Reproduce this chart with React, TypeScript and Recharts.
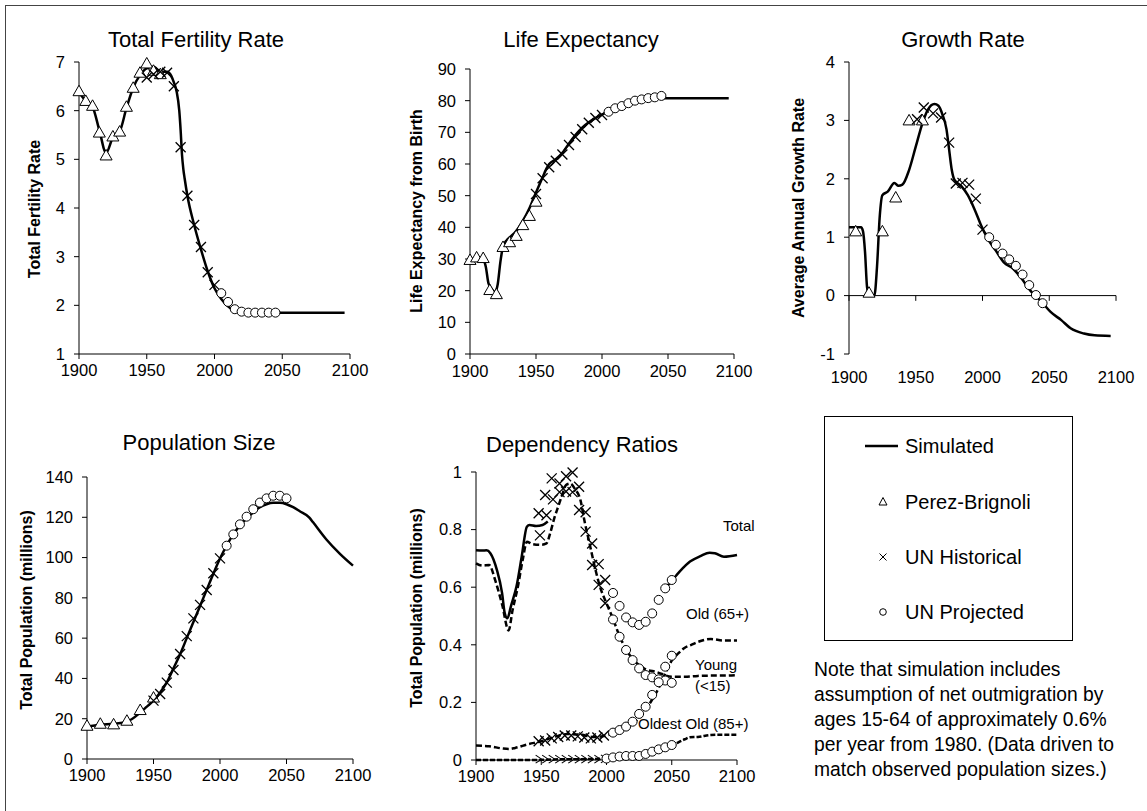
import React from 'react';
import { ComposedChart, Line, Scatter, XAxis, YAxis, ReferenceLine } from 'recharts';

const FONT = '"Liberation Sans", Arial, Helvetica, sans-serif';
const YEAR_TICKS = [1900, 1950, 2000, 2050, 2100];

// ---------- Total Fertility Rate ----------
const tfrSimYears = [1900, 1905, 1910, 1915, 1920, 1925, 1930, 1935, 1940, 1945, 1950, 1955, 1960, 1965, 1968, 1970, 1972, 1974, 1975, 1976, 1977, 1978, 1980, 1985, 1990, 1995, 2000, 2005, 2010, 2015, 2020, 2030, 2050, 2096];
const tfrSimValues = [6.38, 6.2, 6.08, 5.6, 5.13, 5.45, 5.57, 6.05, 6.47, 6.73, 6.87, 6.9, 6.8, 6.8, 6.72, 6.58, 6.4, 6.0, 5.6, 5.1, 4.8, 4.6, 4.25, 3.65, 3.15, 2.7, 2.35, 2.13, 1.98, 1.88, 1.85, 1.85, 1.85, 1.85];
const tfrPerezYears = [1900, 1905, 1910, 1915, 1920, 1925, 1930, 1935, 1940, 1945, 1950, 1955, 1960];
const tfrPerezValues = [6.4, 6.2, 6.1, 5.55, 5.08, 5.47, 5.57, 6.08, 6.47, 6.78, 6.97, 6.82, 6.75];
const tfrUNHistYears = [1950, 1955, 1960, 1965, 1970, 1975, 1980, 1985, 1990, 1995, 2000];
const tfrUNHistValues = [6.68, 6.75, 6.8, 6.78, 6.5, 5.25, 4.25, 3.65, 3.2, 2.68, 2.42];
const tfrUNProjYears = [2005, 2010, 2015, 2020, 2025, 2030, 2035, 2040, 2045];
const tfrUNProjValues = [2.25, 2.07, 1.92, 1.87, 1.85, 1.85, 1.85, 1.85, 1.85];

// ---------- Life Expectancy ----------
const leSimYears = [1900, 1905, 1910, 1912, 1914, 1917, 1919, 1921, 1923, 1925, 1928, 1930, 1935, 1940, 1945, 1950, 1955, 1958, 1960, 1965, 1970, 1975, 1980, 1985, 1990, 1995, 2000, 2005, 2010, 2015, 2020, 2025, 2030, 2035, 2040, 2045, 2096];
const leSimValues = [30, 30, 29.6, 27.5, 22.3, 20.2, 19.5, 22, 29, 33.9, 36, 36.8, 38.8, 42, 46, 51, 55.8, 58.6, 60, 61.5, 63.5, 66.5, 69.2, 71.5, 73.2, 74.5, 75.6, 76.7, 77.8, 78.7, 79.4, 80, 80.3, 80.6, 80.8, 80.8, 80.8];
const lePerezYears = [1900, 1905, 1910, 1915, 1920, 1925, 1930, 1935, 1940, 1945, 1950];
const lePerezValues = [29.7, 30.5, 30.3, 20.2, 18.9, 33.8, 35.3, 37.3, 40.7, 43.6, 48.1];
const leUNHistYears = [1950, 1955, 1960, 1965, 1970, 1975, 1980, 1985, 1990, 1995, 2000];
const leUNHistValues = [50.5, 55.5, 59, 61, 63, 66, 68.5, 71, 73, 74.5, 75.5];
const leUNProjYears = [2005, 2010, 2015, 2020, 2025, 2030, 2035, 2040, 2045];
const leUNProjValues = [76.5, 77.6, 78.3, 79.2, 80, 80.4, 80.8, 81.05, 81.5];

// ---------- Growth Rate ----------
const grSimYears = [1900, 1909, 1910.5, 1912, 1913.5, 1915, 1919, 1921, 1923, 1925, 1929, 1934, 1937, 1940, 1945, 1950, 1955, 1959, 1964, 1967, 1970, 1973, 1975, 1977, 1979, 1984, 1989, 1994, 1999, 2004, 2010, 2016, 2023, 2029, 2036, 2044, 2051, 2059, 2066, 2076, 2084, 2096];
const grSimValues = [1.17, 1.17, 1.1, 0.75, 0.15, 0.0, 0.0, 0.5, 1.35, 1.72, 1.78, 1.93, 1.88, 1.9, 2.15, 2.55, 2.95, 3.18, 3.28, 3.25, 3.1, 2.85, 2.5, 2.15, 1.98, 1.88, 1.72, 1.48, 1.2, 0.97, 0.77, 0.57, 0.46, 0.3, 0.08, -0.1, -0.28, -0.42, -0.56, -0.65, -0.68, -0.69];
const grPerezYears = [1905, 1915, 1925, 1935, 1945, 1955];
const grPerezValues = [1.1, 0.05, 1.1, 1.68, 3.0, 3.0];
const grUNHistYears = [1951, 1956, 1963, 1969, 1975, 1980, 1985, 1990, 1995, 2000];
const grUNHistValues = [3.02, 3.22, 3.12, 3.05, 2.62, 1.92, 1.93, 1.9, 1.66, 1.13];
const grUNProjYears = [2005, 2010, 2015, 2020, 2025, 2030, 2035, 2040, 2045];
const grUNProjValues = [1.0, 0.87, 0.72, 0.62, 0.51, 0.36, 0.18, 0.01, -0.13];

// ---------- Population Size ----------
const popSimYears = [1900, 1910, 1920, 1930, 1940, 1945, 1950, 1955, 1960, 1965, 1970, 1975, 1980, 1985, 1990, 1995, 2000, 2005, 2010, 2015, 2020, 2025, 2030, 2035, 2040, 2045, 2050, 2055, 2060, 2067, 2070, 2080, 2090, 2100];
const popSimValues = [16, 17, 17.5, 18.5, 23, 26, 29, 33, 38, 45, 52, 60, 68, 76, 84, 92, 99.5, 106, 111.5, 116, 119.5, 122.5, 125, 126.5, 127.2, 127.2, 126.5, 125, 123, 120, 117.5, 109, 102, 96];
const popPerezYears = [1900, 1910, 1920, 1930, 1940, 1950];
const popPerezValues = [16.5, 17.5, 17.2, 19, 24.3, 30.5];
const popUNHistYears = [1950, 1955, 1960, 1965, 1970, 1975, 1980, 1985, 1990, 1995, 2000];
const popUNHistValues = [29, 32.3, 37.9, 44.2, 52.1, 61, 69.8, 76.5, 83.9, 92.2, 99.6];
const popUNProjYears = [2005, 2010, 2015, 2020, 2025, 2030, 2035, 2040, 2045, 2050];
const popUNProjValues = [105.9, 111.5, 116.5, 120.3, 124, 127.3, 129.4, 130.7, 130.7, 129.4];

// ---------- Dependency Ratios ----------
const depTotalSimYears = [1900, 1905, 1908, 1911, 1916, 1920, 1922, 1924, 1927, 1931, 1935, 1939, 1941, 1946, 1951, 1955, 1975, 2045, 2050, 2056, 2064, 2072, 2079, 2083, 2090, 2100];
const depTotalSimValues: (number | null)[] = [0.728, 0.727, 0.728, 0.718, 0.66, 0.579, 0.51, 0.492, 0.538, 0.602, 0.706, 0.81, 0.816, 0.8125, 0.816, 0.828, null, 0.596, 0.622, 0.654, 0.689, 0.708, 0.72, 0.718, 0.706, 0.712];
const depYoungSimYears = [1900, 1905, 1910, 1915, 1920, 1925, 1928, 1932, 1936, 1939, 1943, 1950, 1954, 1957, 1960, 1963, 1966, 1969, 1972, 1976, 1980, 1983, 1987, 1991, 1995, 2000, 2005, 2010, 2015, 2020, 2025, 2030, 2038, 2050, 2060, 2070, 2080, 2090, 2100];
const depYoungSimValues = [0.683, 0.675, 0.677, 0.62, 0.54, 0.45, 0.52, 0.6, 0.7, 0.758, 0.75, 0.747, 0.752, 0.79, 0.84, 0.88, 0.92, 0.955, 0.96, 0.94, 0.903, 0.833, 0.752, 0.671, 0.602, 0.544, 0.49, 0.43, 0.385, 0.35, 0.33, 0.315, 0.306, 0.289, 0.289, 0.292, 0.293, 0.293, 0.295];
const depOldSimYears = [1900, 1910, 1920, 1925, 1930, 1940, 1950, 1960, 1970, 1980, 1990, 2000, 2010, 2020, 2030, 2035, 2040, 2045, 2050, 2055, 2060, 2065, 2070, 2080, 2090, 2100];
const depOldSimValues = [0.05, 0.048, 0.04, 0.038, 0.042, 0.055, 0.065, 0.08, 0.09, 0.088, 0.08, 0.085, 0.1, 0.125, 0.175, 0.21, 0.25, 0.3, 0.345, 0.37, 0.39, 0.4, 0.41, 0.42, 0.415, 0.415];
const depOldestSimYears = [1900, 1945, 1960, 1980, 2000, 2010, 2020, 2030, 2040, 2050, 2060, 2064, 2070, 2080, 2090, 2100];
const depOldestSimValues = [0.0, 0.0, 0.002, 0.003, 0.005, 0.01, 0.014, 0.02, 0.035, 0.05, 0.072, 0.079, 0.08, 0.087, 0.088, 0.088];

const depTotalHistYears = [1948, 1953, 1958, 1964, 1969, 1974, 1979, 1984, 1989, 1994, 1999];
const depTotalHistValues = [0.857, 0.92, 0.978, 0.96, 0.985, 0.998, 0.949, 0.86, 0.752, 0.68, 0.625];
const depYoungHistYears = [1949, 1954, 1959, 1964, 1969, 1974, 1979, 1984, 1989, 1994, 1999];
const depYoungHistValues = [0.78, 0.85, 0.905, 0.93, 0.932, 0.93, 0.868, 0.793, 0.677, 0.608, 0.544];
const depOldHistYears = [1948, 1953, 1958, 1963, 1968, 1973, 1978, 1983, 1988, 1993, 1998];
const depOldHistValues = [0.065, 0.068, 0.075, 0.08, 0.085, 0.085, 0.082, 0.078, 0.075, 0.078, 0.085];
const depOldestHistYears = [1948, 1953, 1958, 1963, 1968, 1973, 1978, 1983, 1988, 1993, 1998];
const depOldestHistValues = [0.003, 0.003, 0.003, 0.003, 0.003, 0.003, 0.003, 0.003, 0.003, 0.003, 0.004];

const projYears = [2005, 2010, 2015, 2020, 2025, 2030, 2035, 2040, 2045, 2050];
const depTotalProjValues = [0.58, 0.535, 0.495, 0.478, 0.469, 0.48, 0.509, 0.556, 0.596, 0.625];
const depYoungProjValues = [0.488, 0.428, 0.382, 0.347, 0.318, 0.295, 0.287, 0.28, 0.276, 0.268];
const depOldProjValues = [0.095, 0.104, 0.116, 0.133, 0.16, 0.185, 0.226, 0.27, 0.324, 0.362];
const depOldestProjYears = [2000, 2005, 2010, 2015, 2020, 2025, 2030, 2035, 2040, 2045, 2050];
const depOldestProjValues = [0.005, 0.009, 0.012, 0.014, 0.014, 0.014, 0.021, 0.029, 0.037, 0.044, 0.052];

// ---------- text ----------
const legendLabels = ['Simulated', 'Perez-Brignoli', 'UN Historical', 'UN Projected'];
const noteLines = [
  'Note that simulation includes',
  'assumption of net outmigration by',
  'ages 15-64 of approximately 0.6%',
  'per year from 1980. (Data driven to',
  'match observed population sizes.)',
];

type Pt = { x: number; y: number | null };
const pts = (xs: number[], ys: (number | null)[]): Pt[] => xs.map((x, i) => ({ x, y: ys[i] }));

const Tri = (p: any) => {
  const { cx, cy } = p;
  if (cx == null || cy == null || isNaN(cy)) return <g />;
  const w = 6;
  return (
    <path
      d={`M${cx},${cy - 6} L${cx + w},${cy + 4.5} L${cx - w},${cy + 4.5} Z`}
      fill="#fff"
      stroke="#000"
      strokeWidth={1}
    />
  );
};
const Cross = (p: any) => {
  const { cx, cy } = p;
  if (cx == null || cy == null || isNaN(cy)) return <g />;
  const s = 5;
  return (
    <path
      d={`M${cx - s},${cy - s} L${cx + s},${cy + s} M${cx - s},${cy + s} L${cx + s},${cy - s}`}
      stroke="#000"
      strokeWidth={1.3}
      fill="none"
    />
  );
};
const Ring = (p: any) => {
  const { cx, cy } = p;
  if (cx == null || cy == null || isNaN(cy)) return <g />;
  return <circle cx={cx} cy={cy} r={4.5} fill="#fff" stroke="#000" strokeWidth={1} />;
};
const Chev = (p: any) => {
  const { cx, cy } = p;
  if (cx == null || cy == null || isNaN(cy)) return <g />;
  return (
    <path d={`M${cx - 3},${cy - 4} L${cx + 3},${cy} L${cx - 3},${cy + 4}`} stroke="#000" strokeWidth={1.1} fill="none" />
  );
};

type LineSpec = { data: Pt[]; dash?: string };
type DotSpec = { data: Pt[]; shape: any };

function Panel(props: {
  plot: [number, number, number, number];
  yDomain: [number, number];
  yTicks: number[];
  lines: LineSpec[];
  dots: DotSpec[];
  zeroAxis?: boolean;
  xTickMargin?: number;
}) {
  const { plot, yDomain, yTicks, lines, dots, zeroAxis, xTickMargin = 5 } = props;
  const [L, T, R, B] = plot;
  const YW = 60, MT = 10, MR = 30, XH = 40;
  const width = R - L + YW + MR;
  const height = B - T + MT + XH;
  const tickStyle = { fill: '#000', fontSize: 16.5, fontFamily: FONT };
  return (
    <div style={{ position: 'absolute', left: L - YW, top: T - MT }}>
      <ComposedChart width={width} height={height} margin={{ top: MT, right: MR, bottom: 0, left: 0 }}>
        <XAxis
          type="number"
          dataKey="x"
          domain={[1900, 2100]}
          ticks={YEAR_TICKS}
          interval={0}
          height={XH}
          tick={tickStyle}
          tickSize={5}
          tickMargin={xTickMargin}
          stroke="#000"
          axisLine={!zeroAxis}
          tickLine={!zeroAxis}
        />
        <YAxis
          type="number"
          dataKey="y"
          domain={yDomain}
          ticks={yTicks}
          interval={0}
          width={YW}
          tick={tickStyle}
          tickSize={5}
          tickMargin={9}
          stroke="#000"
        />
        {zeroAxis && <ReferenceLine y={0} stroke="#000" strokeWidth={1} />}
        {zeroAxis &&
          YEAR_TICKS.map((t) => (
            <ReferenceLine
              key={'zt' + t}
              segment={[
                { x: t, y: 0 },
                { x: t, y: -0.09 },
              ]}
              stroke="#000"
              strokeWidth={1}
            />
          ))}
        {lines.map((l, i) => (
          <Line
            key={'l' + i}
            data={l.data}
            dataKey="y"
            type="monotone"
            stroke="#000"
            strokeWidth={2.5}
            strokeDasharray={l.dash}
            dot={false}
            activeDot={false}
            connectNulls={false}
            isAnimationActive={false}
          />
        ))}
        {dots.map((d, i) => (
          <Scatter key={'s' + i} data={d.data} dataKey="y" shape={d.shape} isAnimationActive={false} />
        ))}
      </ComposedChart>
    </div>
  );
}

const Title = ({ x, y, text }: { x: number; y: number; text: string }) => (
  <div
    style={{
      position: 'absolute',
      left: x,
      top: y,
      transform: 'translate(-50%, -50%)',
      fontFamily: FONT,
      fontSize: 22,
      whiteSpace: 'nowrap',
      color: '#000',
      lineHeight: 1,
    }}
  >
    {text}
  </div>
);

const YLabel = ({ x, y, text }: { x: number; y: number; text: string }) => (
  <div
    style={{
      position: 'absolute',
      left: x,
      top: y,
      transform: 'translate(-50%, -50%) rotate(-90deg)',
      fontFamily: FONT,
      fontSize: 16,
      fontWeight: 'bold',
      whiteSpace: 'nowrap',
      color: '#000',
      lineHeight: 1,
    }}
  >
    {text}
  </div>
);

const SmallLabel = ({ x, y, text }: { x: number; y: number; text: string }) => (
  <div
    style={{
      position: 'absolute',
      left: x,
      top: y,
      transform: 'translateY(-50%)',
      fontFamily: FONT,
      fontSize: 15,
      whiteSpace: 'nowrap',
      color: '#000',
      lineHeight: 1,
    }}
  >
    {text}
  </div>
);

export default function App() {
  const DASH = '6 3';
  return (
    <div
      style={{
        position: 'absolute',
        left: 0,
        top: 0,
        width: 1147,
        height: 811,
        background: '#fff',
        overflow: 'hidden',
      }}
    >
      <div
        style={{
          position: 'absolute',
          left: 5,
          top: 5,
          width: 1200,
          height: 900,
          borderTop: '1px solid #444',
          borderLeft: '1px solid #444',
        }}
      />

      {/* Total Fertility Rate */}
      <Panel
        plot={[79, 62, 350, 354]}
        yDomain={[1, 7]}
        yTicks={[1, 2, 3, 4, 5, 6, 7]}
        lines={[{ data: pts(tfrSimYears, tfrSimValues) }]}
        dots={[
          { data: pts(tfrPerezYears, tfrPerezValues), shape: Tri },
          { data: pts(tfrUNHistYears, tfrUNHistValues), shape: Cross },
          { data: pts(tfrUNProjYears, tfrUNProjValues), shape: Ring },
        ]}
      />
      <Title x={196} y={40} text="Total Fertility Rate" />
      <YLabel x={35} y={209} text="Total Fertility Rate" />

      {/* Life Expectancy */}
      <Panel
        plot={[470, 69, 734, 354]}
        yDomain={[0, 90]}
        yTicks={[0, 10, 20, 30, 40, 50, 60, 70, 80, 90]}
        xTickMargin={6}
        lines={[{ data: pts(leSimYears, leSimValues) }]}
        dots={[
          { data: pts(lePerezYears, lePerezValues), shape: Tri },
          { data: pts(leUNHistYears, leUNHistValues), shape: Cross },
          { data: pts(leUNProjYears, leUNProjValues), shape: Ring },
        ]}
      />
      <Title x={581} y={40} text="Life Expectancy" />
      <YLabel x={417} y={211} text="Life Expectancy from Birth" />

      {/* Growth Rate */}
      <Panel
        plot={[849, 62, 1116, 354]}
        yDomain={[-1, 4]}
        yTicks={[-1, 0, 1, 2, 3, 4]}
        zeroAxis
        xTickMargin={12}
        lines={[{ data: pts(grSimYears, grSimValues) }]}
        dots={[
          { data: pts(grPerezYears, grPerezValues), shape: Tri },
          { data: pts(grUNHistYears, grUNHistValues), shape: Cross },
          { data: pts(grUNProjYears, grUNProjValues), shape: Ring },
        ]}
      />
      <Title x={963} y={40} text="Growth Rate" />
      <YLabel x={799} y={208} text="Average Annual Growth Rate" />

      {/* Population Size */}
      <Panel
        plot={[87, 477, 353, 759]}
        yDomain={[0, 140]}
        yTicks={[0, 20, 40, 60, 80, 100, 120, 140]}
        lines={[{ data: pts(popSimYears, popSimValues) }]}
        dots={[
          { data: pts(popPerezYears, popPerezValues), shape: Tri },
          { data: pts(popUNHistYears, popUNHistValues), shape: Cross },
          { data: pts(popUNProjYears, popUNProjValues), shape: Ring },
        ]}
      />
      <Title x={199} y={443} text="Population Size" />
      <YLabel x={27} y={610} text="Total Population (millions)" />

      {/* Dependency Ratios */}
      <Panel
        plot={[476, 472, 737, 760]}
        yDomain={[0, 1]}
        yTicks={[0, 0.2, 0.4, 0.6, 0.8, 1]}
        lines={[
          { data: pts(depTotalSimYears, depTotalSimValues) },
          { data: pts(depYoungSimYears, depYoungSimValues), dash: DASH },
          { data: pts(depOldSimYears, depOldSimValues), dash: DASH },
          { data: pts(depOldestSimYears, depOldestSimValues), dash: '5 2' },
        ]}
        dots={[
          { data: pts(depTotalHistYears, depTotalHistValues), shape: Cross },
          { data: pts(depYoungHistYears, depYoungHistValues), shape: Cross },
          { data: pts(depOldHistYears, depOldHistValues), shape: Cross },
          { data: pts(depOldestHistYears, depOldestHistValues), shape: Chev },
          { data: pts(projYears, depTotalProjValues), shape: Ring },
          { data: pts(projYears, depYoungProjValues), shape: Ring },
          { data: pts(projYears, depOldProjValues), shape: Ring },
          { data: pts(depOldestProjYears, depOldestProjValues), shape: Ring },
        ]}
      />
      <Title x={582} y={445} text="Dependency Ratios" />
      <YLabel x={417} y={608} text="Total Population (millions)" />
      <SmallLabel x={723} y={525} text="Total" />
      <SmallLabel x={686} y={613} text="Old (65+)" />
      <SmallLabel x={695} y={664} text="Young" />
      <SmallLabel x={695} y={685} text="(<15)" />
      <SmallLabel x={638} y={723} text="Oldest Old (85+)" />

      {/* Legend */}
      <div
        style={{
          position: 'absolute',
          left: 824,
          top: 416,
          width: 247,
          height: 223,
          border: '1px solid #000',
        }}
      />
      <svg style={{ position: 'absolute', left: 0, top: 0 }} width={1147} height={811}>
        <line x1={865} y1={446} x2={898} y2={446} stroke="#000" strokeWidth={2.5} />
        <path d="M883,497.5 L887,505 L879,505 Z" fill="#fff" stroke="#000" strokeWidth={1} />
        <path d="M879.5,553.5 L886.5,560.5 M879.5,560.5 L886.5,553.5" stroke="#000" strokeWidth={1} fill="none" />
        <circle cx={883} cy={612} r={3.3} fill="#fff" stroke="#000" strokeWidth={1} />
      </svg>
      {legendLabels.map((t, i) => (
        <div
          key={t}
          style={{
            position: 'absolute',
            left: 905,
            top: [446, 502, 557, 612][i],
            transform: 'translateY(-50%)',
            fontFamily: FONT,
            fontSize: 20,
            whiteSpace: 'nowrap',
            lineHeight: 1,
            color: '#000',
          }}
        >
          {t}
        </div>
      ))}
      <div
        style={{
          position: 'absolute',
          left: 814,
          top: 657,
          fontFamily: FONT,
          fontSize: 19.3,
          lineHeight: '25px',
          whiteSpace: 'pre',
          color: '#000',
        }}
      >
        {noteLines.join('\n')}
      </div>
    </div>
  );
}
